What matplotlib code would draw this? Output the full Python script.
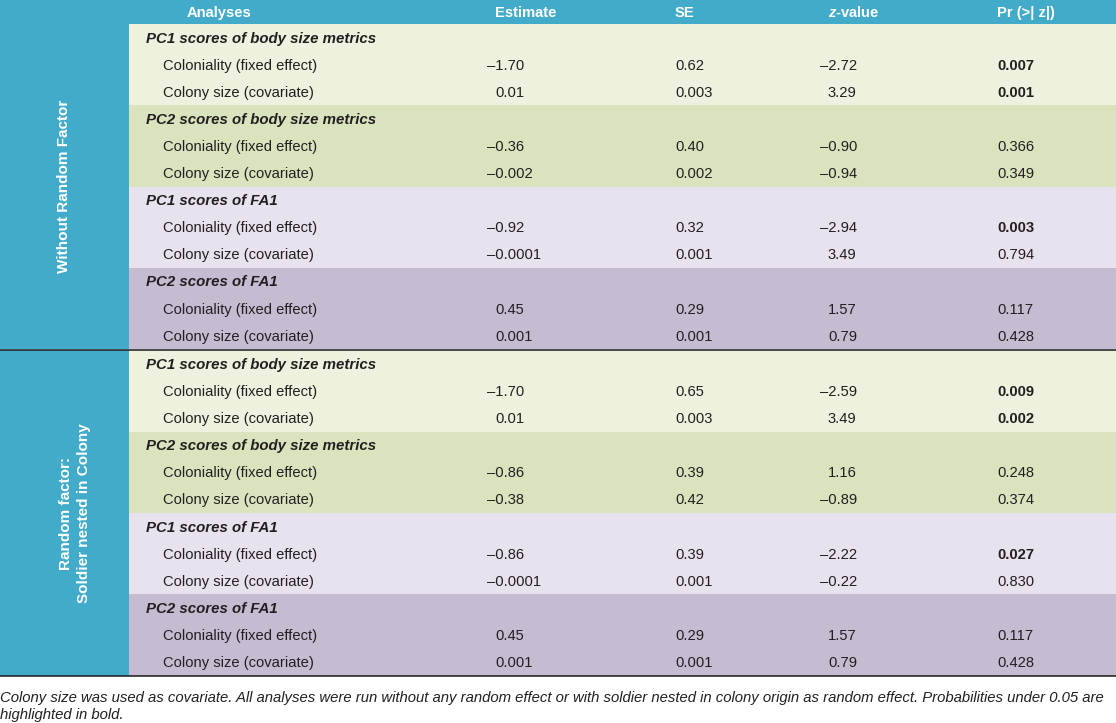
import matplotlib
matplotlib.use("Agg")
import matplotlib.pyplot as plt
from matplotlib.patches import Rectangle

# ---- table content ----
groups = ["Without Random Factor", "Random factor:\nSoldier nested in Colony"]
sections = ["PC1 scores of body size metrics", "PC2 scores of body size metrics",
            "PC1 scores of FA1", "PC2 scores of FA1"]
terms = ["Coloniality (fixed effect)", "Colony size (covariate)"]

# one list per column, 16 rows = 2 groups x 4 sections x 2 terms
estimate = ["-1.70", "0.01", "-0.36", "-0.002", "-0.92", "-0.0001", "0.45", "0.001",
            "-1.70", "0.01", "-0.86", "-0.38", "-0.86", "-0.0001", "0.45", "0.001"]
se = ["0.62", "0.003", "0.40", "0.002", "0.32", "0.001", "0.29", "0.001",
      "0.65", "0.003", "0.39", "0.42", "0.39", "0.001", "0.29", "0.001"]
zval = ["-2.72", "3.29", "-0.90", "-0.94", "-2.94", "3.49", "1.57", "0.79",
        "-2.59", "3.49", "1.16", "-0.89", "-2.22", "-0.22", "1.57", "0.79"]
pval = ["0.007", "0.001", "0.366", "0.349", "0.003", "0.794", "0.117", "0.428",
        "0.009", "0.002", "0.248", "0.374", "0.027", "0.830", "0.117", "0.428"]

headers = ["Analyses", "Estimate", "SE", "$z$-value", "Pr (>| z|)"]
footnote = ["Colony size was used as covariate. All analyses were run without any random "
            "effect or with soldier nested in colony origin as random effect. "
            "Probabilities under 0.05 are",
            "highlighted in bold."]

# ---- style ----
W, H = 1116, 723
blue = "#43abca"
band_colors = ["#edf1de", "#d9e4bf", "#e8e1ee", "#c5bcd2"]
ink = "#231f20"
fam = ["Liberation Sans", "DejaVu Sans"]
fam_note = ["Liberation Sans Narrow", "Liberation Sans", "DejaVu Sans"]
fs = 10.6
plt.rcParams["mathtext.fontset"] = "custom"
plt.rcParams["mathtext.it"] = "Liberation Sans:italic:bold"
plt.rcParams["mathtext.rm"] = "Liberation Sans:bold"

header_h = 24
row_h = 27.1
left_w = 129
col_x = [None, 495, 675, 828, 997]   # left edge of positive numbers
head_x = [219, 495, 675, 828, 997]
base = 5.0                            # baseline below row centre

fig = plt.figure(figsize=(W / 100, H / 100), dpi=100)
ax = fig.add_axes([0, 0, 1, 1])
ax.set_xlim(0, W)
ax.set_ylim(H, 0)
ax.axis("off")
renderer = fig.canvas.get_renderer()

# width of the dash in pixels, so negative numbers hang it to the left
probe = ax.text(0, 0, "\u2013", fontsize=fs, family=fam)
dash_w = probe.get_window_extent(renderer).width
probe.remove()

# header band and left column
ax.add_patch(Rectangle((0, 0), W, header_h, color=blue, lw=0))
for j, h in enumerate(headers):
    ax.text(head_x[j], header_h / 2 + base, h, color="white", fontsize=fs,
            fontweight="bold", family=fam, ha="center" if j == 0 else "left",
            va="baseline")

group_h = 4 * 3 * row_h
cols = [estimate, se, zval, pval]


def put_num(x, y, s, bold=False):
    w = "bold" if bold else "normal"
    if s.startswith("-"):
        s = "\u2013" + s[1:]
        x = x - dash_w
    ax.text(x, y + base, s, color=ink, fontsize=fs, family=fam, ha="left",
            va="baseline", fontweight=w)


k = 0
for g, gname in enumerate(groups):
    y0 = header_h + g * (group_h + 1.2)
    ax.add_patch(Rectangle((0, y0 if g else 0), left_w,
                           group_h + (0 if g else header_h), color=blue, lw=0))
    gx = 64 if g == 0 else 75
    ax.text(gx, y0 + group_h / 2, gname, color="white", fontsize=fs + 0.4,
            fontweight="bold", family=fam, rotation=90, ha="center",
            va="center", multialignment="center", linespacing=1.4)
    for s, sname in enumerate(sections):
        ys = y0 + s * 3 * row_h
        ax.add_patch(Rectangle((left_w, ys), W - left_w, 3 * row_h,
                               color=band_colors[s], lw=0))
        ax.text(146, ys + row_h / 2 + base, sname, color=ink, fontsize=fs + 0.2,
                fontweight="bold", style="italic", family=fam, ha="left",
                va="baseline")
        for t, tname in enumerate(terms):
            yr = ys + (t + 1.5) * row_h
            ax.text(163, yr + base, tname, color=ink, fontsize=fs, family=fam,
                    ha="left", va="baseline")
            for c, col in enumerate(cols):
                bold = c == 3 and float(col[k]) < 0.05
                put_num(col_x[c + 1], yr, col[k], bold)
            k += 1
    # rule under each group
    ax.plot([0, W], [y0 + group_h + 0.6] * 2, color="#1a1a1a", lw=1.1,
            solid_capstyle="butt")

# footnote, shrunk to fit the width
t1 = ax.text(0, 702, footnote[0], color=ink, fontsize=fs, style="italic",
             family=fam_note, ha="left", va="baseline")
wpx = t1.get_window_extent(renderer).width
fs_note = fs * 1112 / wpx
t1.set_fontsize(fs_note)
ax.text(0, 719, footnote[1], color=ink, fontsize=fs_note, style="italic",
        family=fam_note, ha="left", va="baseline")

fig.savefig("out.png", dpi=100)
